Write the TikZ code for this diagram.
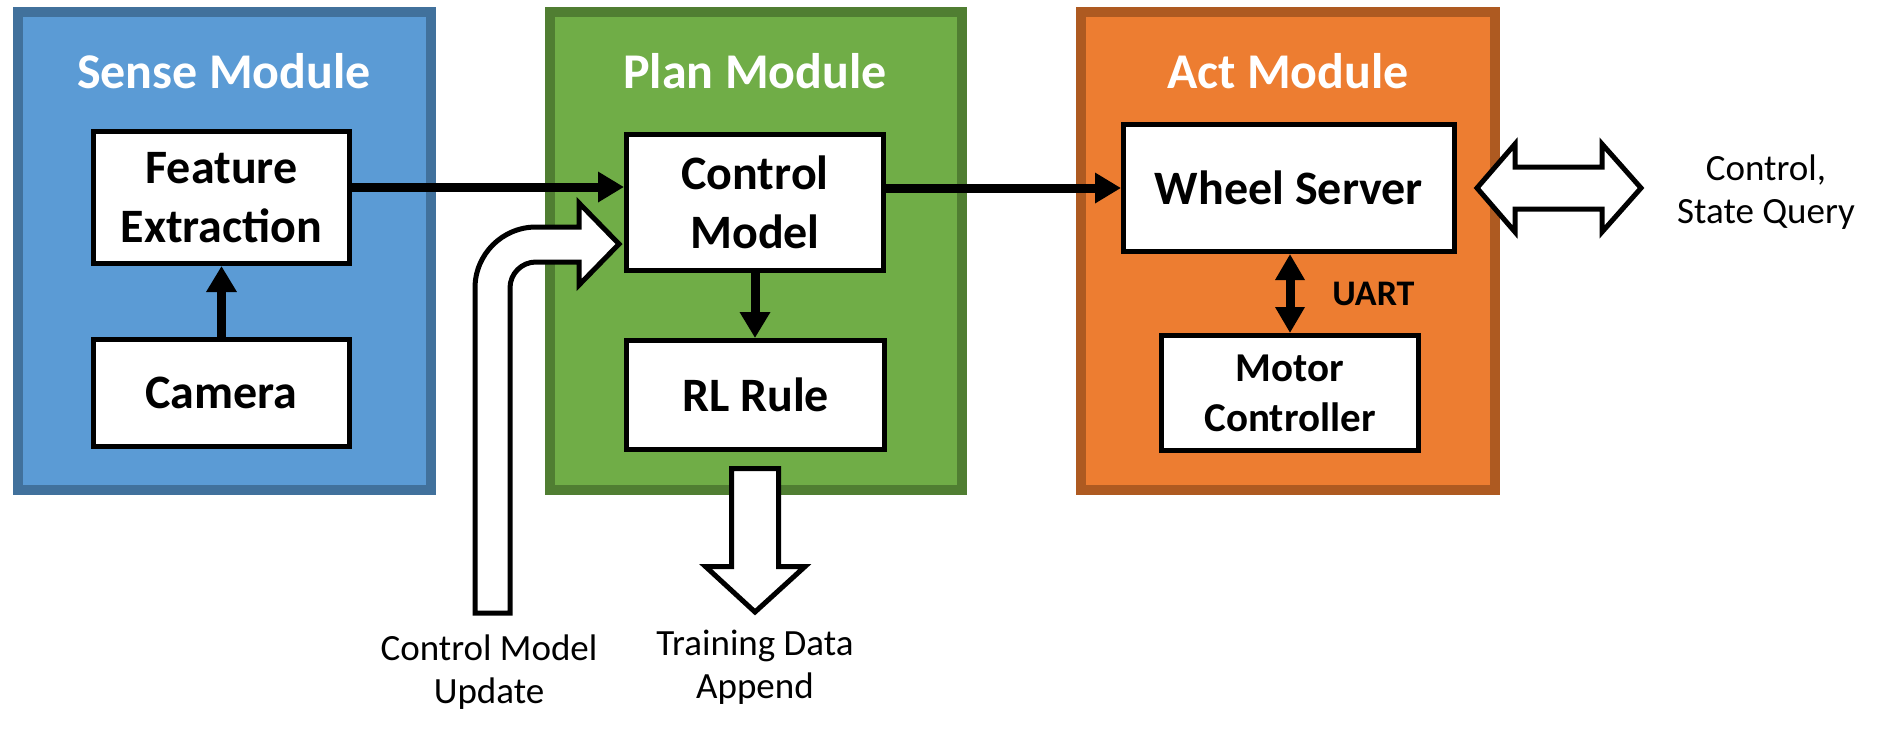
\documentclass[tikz,border=0pt]{standalone}
\usepackage{fontspec}
\setmainfont{Carlito}
\usetikzlibrary{arrows.meta}
\definecolor{senseF}{HTML}{5B9BD5}
\definecolor{senseB}{HTML}{41719C}
\definecolor{planF}{HTML}{70AD47}
\definecolor{planB}{HTML}{507E32}
\definecolor{actF}{HTML}{ED7D31}
\definecolor{actB}{HTML}{AE5A21}
\begin{document}
\begin{tikzpicture}[x=0.5pt,y=-0.5pt,
 module/.style={line width=5pt},
 title/.style={text=white, font=\bfseries\fontsize{25}{30}\selectfont, anchor=base, inner sep=0pt},
 box/.style={draw=black, fill=white, line width=2.5pt, align=center, inner sep=0pt, font=\bfseries\fontsize{24}{29.3}\selectfont},
 arr/.style={line width=4.5pt, -{Triangle[length=13pt,width=14.5pt]}},
 darr/.style={line width=4.5pt, {Triangle[length=13pt,width=14pt]}-{Triangle[length=13pt,width=14pt]}},
 blockarrow/.style={draw=black, fill=white, line width=2.5pt, line join=miter},
 lbl/.style={font=\fontsize{18.5}{21.5}\selectfont, align=center, inner sep=0pt}
]
\useasboundingbox (0,0) rectangle (1877,735);
% modules
\draw[module, draw=senseB, fill=senseF] (18,12) rectangle (431,490);
\draw[module, draw=planB, fill=planF] (550,12) rectangle (962,490);
\draw[module, draw=actB, fill=actF] (1081,12) rectangle (1495,490);
\node[title] (tS) at (224,88) {Sense Module};
\node[title] (tP) at (755,88) {Plan Module};
\node[title] (tA) at (1288,88) {Act Module};
% boxes
\node[box, minimum width=128pt, minimum height=66pt] (Feature) at (221.5,197.5) {Feature\\Extraction};
\node[box, minimum width=128pt, minimum height=53.5pt] (Camera) at (221.5,393) {Camera};
\node[box, minimum width=128.5pt, minimum height=68pt] (Control) at (755,202.5) {Control\\Model};
\node[box, minimum width=129pt, minimum height=54.5pt] (RL) at (755.5,395) {RL Rule};
\node[box, minimum width=165.5pt, minimum height=63.5pt] (Wheel) at (1289,188) {Wheel Server};
\node[box, minimum width=128.5pt, minimum height=57.5pt, font=\bfseries\fontsize{20.5}{25}\selectfont] (Motor) at (1290,393) {Motor\\Controller};
% connectors
\coordinate (fe) at ([yshift=5.25pt]Feature.east);
\draw[arr] (fe) -- (fe -| Control.west);
\draw[arr] (Camera.north) -- (Feature.south);
\draw[arr] (Control.south) -- (Control.south |- RL.north);
\draw[arr] (Control.east |- Wheel.west) -- (Wheel.west);
\draw[darr] (Motor.north |- Wheel.south) -- (Motor.north);
\node[font=\bfseries\fontsize{18}{22}\selectfont, inner sep=0pt, anchor=base west] (uart) at (1332,305) {UART};
% block arrows
\draw[blockarrow] (731.5,468.5) -- (778.5,468.5) -- (778.5,566.5) -- (805,566.5) -- (755,612) -- (705.5,566.5) -- (731.5,566.5) -- cycle;
\draw[blockarrow] (475,613) -- (475,288) .. controls (475,254.3) and (502.3,227) .. (536,227) -- (579,227) -- (579,203) -- (619,244) -- (579,285) -- (579,262) -- (536,262) .. controls (521.6,262) and (510,273.6) .. (510,288) -- (510,613) -- cycle;
\draw[blockarrow] (1477,188) -- (1515,144) -- (1515,167) -- (1602,167) -- (1602,144) -- (1641,188) -- (1602,232) -- (1602,209) -- (1515,209) -- (1515,232) -- cycle;
% labels
\node[lbl] (cmu) at (489,672.5) {Control Model\\Update};
\node[lbl] (tda) at (755,667) {Training Data\\Append};
\node[lbl] (csq) at (1766,192) {Control,\\State Query};
\end{tikzpicture}
\end{document}
